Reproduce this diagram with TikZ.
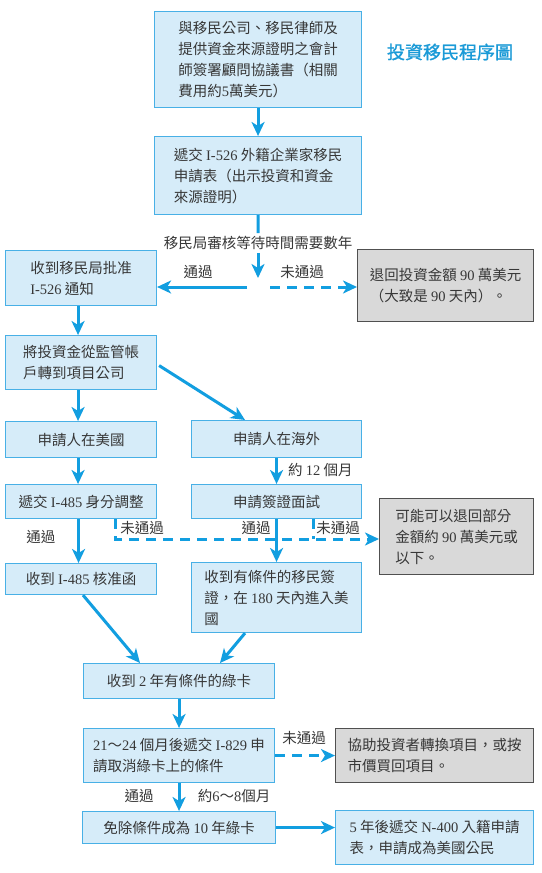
\documentclass[tikz,border=0pt]{standalone}
\usepackage{fontspec}
\setmainfont{Noto Sans CJK TC}
\newfontfamily\lat{Liberation Serif}
\newfontfamily\titlefont{Noto Sans CJK TC}[FakeBold=1.2]
\usetikzlibrary{arrows.meta,calc}
\definecolor{arrblue}{RGB}{18,158,224}
\definecolor{boxfill}{RGB}{214,236,249}
\definecolor{boxline}{RGB}{72,176,230}
\definecolor{greyfill}{RGB}{217,217,217}
\definecolor{greyline}{RGB}{80,80,80}
\definecolor{txt}{RGB}{55,55,55}
\definecolor{titleblue}{RGB}{26,154,215}
\begin{document}
\begin{tikzpicture}[x=1pt,y=-1pt,
  every node/.style={text=txt, font=\fontsize{14.5}{21}\selectfont, inner sep=0pt},
  bx/.style={draw=boxline, fill=boxfill, line width=1.1pt, align=left, anchor=north west},
  gbx/.style={draw=greyline, fill=greyfill, line width=1.1pt, align=left, anchor=north west},
  arr/.style={draw=arrblue, line width=3pt, -{Stealth[length=14pt,width=13pt,inset=4pt]}},
  dsh/.style={draw=arrblue, line width=3pt, dash pattern=on 10pt off 7pt},
  plain/.style={draw=arrblue, line width=3pt}
]
\fill[white] (0,0) rectangle (541,873);
\useasboundingbox (0,0) rectangle (541,873);

% title
\node[text=titleblue, font=\titlefont\fontsize{18}{20}\selectfont] (title) at (450,52) {投資移民程序圖};

% boxes
\node[bx, minimum width=207, minimum height=96] (b1) at (154,11) {與移民公司、移民律師及\\提供資金來源證明之會計\\師簽署顧問協議書（相關\\費用約{\lat 5}萬美元）};
\node[bx, minimum width=207, minimum height=78] (b2) at (154,136) {遞交 {\lat I-526} 外籍企業家移民\\申請表（出示投資和資金\\來源證明）};
\node[bx, minimum width=151, minimum height=55] (b3) at (5,250) {收到移民局批准\\{\lat I-526} 通知};
\node[gbx, minimum width=176, minimum height=72] (g1) at (357,249) {退回投資金額 {\lat 90} 萬美元\\（大致是 {\lat 90} 天內）。};
\node[bx, minimum width=151, minimum height=54] (b4) at (5,335) {將投資金從監管帳\\戶轉到項目公司};
\node[bx, minimum width=151, minimum height=36] (b5) at (5,421) {申請人在美國};
\node[bx, minimum width=170, minimum height=37] (b6) at (191,420) {申請人在海外};
\node[bx, minimum width=151, minimum height=34] (b7) at (5,484) {遞交 {\lat I-485} 身分調整};
\node[bx, minimum width=170, minimum height=34] (b8) at (191,484) {申請簽證面試};
\node[gbx, minimum width=154, minimum height=76] (g2) at (379,498) {可能可以退回部分\\金額約 {\lat 90} 萬美元或\\以下。};
\node[bx, minimum width=151, minimum height=31] (b9) at (5,563) {收到 {\lat I-485} 核准函};
\node[bx, minimum width=170, minimum height=70] (b10) at (191,562) {收到有條件的移民簽\\證，在 {\lat 180} 天內進入美\\國};
\node[bx, minimum width=191, minimum height=35] (b11) at (83,663) {收到 {\lat 2} 年有條件的綠卡};
\node[bx, minimum width=191, minimum height=54] (b12) at (83,728) {{\lat 21}～{\lat 24} 個月後遞交 {\lat I-829} 申\\請取消綠卡上的條件};
\node[gbx, minimum width=198, minimum height=54] (g3) at (335,728) {協助投資者轉換項目，或按\\市價買回項目。};
\node[bx, minimum width=193, minimum height=32] (b13) at (82,811) {免除條件成為 {\lat 10} 年綠卡};
\node[bx, minimum width=198, minimum height=54] (b14) at (335,810) {{\lat 5} 年後遞交 {\lat N-400} 入籍申請\\表，申請成為美國公民};

% labels
\node[inner sep=3pt] (lab1) at (258,243) {移民局審核等待時間需要數年};
\node (lpass1) at (198,272) {通過};
\node (lfail1) at (302,272) {未通過};
\node[anchor=west] (l12m) at (288,470) {約 {\lat 12} 個月};
\node (lpass2) at (41,537) {通過};
\node (lfail2) at (142,528) {未通過};
\node (lpass3) at (256,528) {通過};
\node (lfail3) at (338,528) {未通過};
\node (lfail4) at (304,738) {未通過};
\node (lpass4) at (139,796) {通過};
\node (l68m) at (234,796) {約{\lat 6}～{\lat 8}個月};

% coordinates
\coordinate (forktip) at (258,278);
\coordinate (forkL) at (247,287);
\coordinate (forkR) at (270,287);
\coordinate (d1) at ($(b7.south west)+(110,0)$);
\coordinate (d2) at ($(b8.south west)+(122,0)$);
\coordinate (dcorner) at (115,539);

% connectors
\draw[arr] (b1.south) -- (b2.north);
\draw[plain] (b2.south) -- (lab1.north);
\draw[arr] (lab1.south) -- (forktip);
\draw[arr] (forkL) -- (forkL -| b3.east);
\draw[arr, dsh] (forkR) -- (forkR -| g1.west);
\draw[arr] ([xshift=-3pt]b3.south) -- ([xshift=-3pt]b4.north);
\draw[arr] ([xshift=-3pt]b4.south) -- ([xshift=-3pt]b5.north);
\draw[arr] ($(b4.east)+(2,3)$) -- ($(b6.north west)+(54,0)$);
\draw[arr] ([xshift=-3pt]b5.south) -- ([xshift=-3pt]b7.north);
\draw[arr] (b6.south) -- (b8.north);
\draw[arr] ([xshift=-2.5pt]b7.south) -- ([xshift=-2.5pt]b9.north);
\draw[arr] (b8.south) -- (b10.north);
\draw[arr, dsh] (d1) -- (dcorner) -- (dcorner -| g2.west);
\draw[dsh] (d2) -- (d2 |- dcorner);
\draw[arr] ($(b9.south west)+(78,0)$) -- ($(b11.north west)+(57,0)$);
\draw[arr] ($(b10.south west)+(54,0)$) -- ($(b11.north west)+(137,0)$);
\draw[arr] (b11.south) -- (b12.north);
\draw[arr, dsh] (b12.east) -- (g3.west);
\draw[arr] (b12.south) -- (b13.north);
\draw[arr] (b13.east) -- (b13.east -| b14.west);
\end{tikzpicture}
\end{document}
